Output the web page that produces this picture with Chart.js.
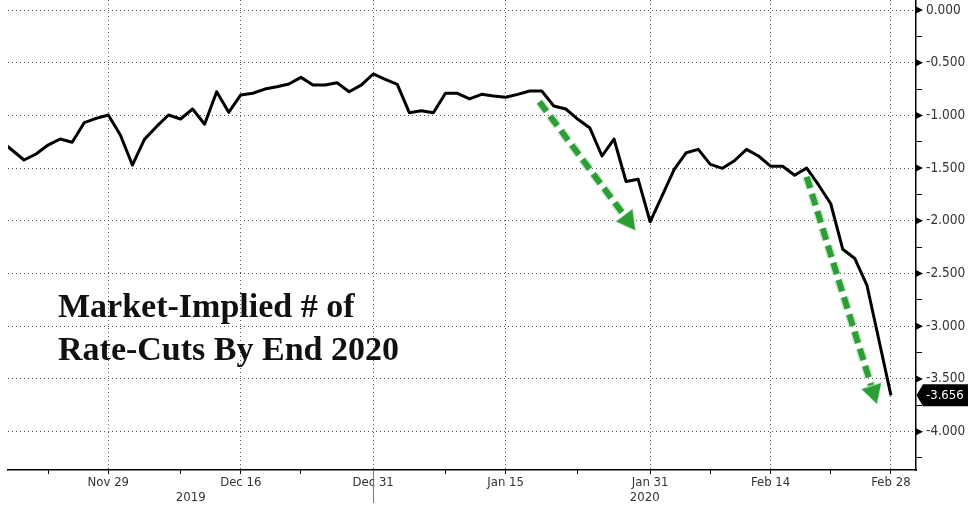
<!DOCTYPE html>
<html><head><meta charset="utf-8">
<script src="https://cdn.jsdelivr.net/npm/chart.js@4/dist/chart.umd.min.js"></script>
<style>html,body{margin:0;padding:0;background:#fff;}canvas{display:block;}</style>
</head><body>
<canvas id="c" width="976" height="510"></canvas>
<script>
// ---------- DATA ----------
const dates = [
 '2019-11-18','2019-11-19','2019-11-20','2019-11-21','2019-11-22','2019-11-25','2019-11-26','2019-11-27','2019-11-28','2019-11-29',
 '2019-12-02','2019-12-03','2019-12-04','2019-12-05','2019-12-06','2019-12-09','2019-12-10','2019-12-11','2019-12-12','2019-12-13',
 '2019-12-16','2019-12-17','2019-12-18','2019-12-19','2019-12-20','2019-12-23','2019-12-24','2019-12-25','2019-12-26','2019-12-27',
 '2019-12-30','2019-12-31','2020-01-01','2020-01-02','2020-01-03','2020-01-06','2020-01-07','2020-01-08','2020-01-09','2020-01-10',
 '2020-01-13','2020-01-14','2020-01-15','2020-01-16','2020-01-17','2020-01-20','2020-01-21','2020-01-22','2020-01-23','2020-01-24',
 '2020-01-27','2020-01-28','2020-01-29','2020-01-30','2020-01-31','2020-02-03','2020-02-04','2020-02-05','2020-02-06','2020-02-07',
 '2020-02-10','2020-02-11','2020-02-12','2020-02-13','2020-02-14','2020-02-17','2020-02-18','2020-02-19','2020-02-20','2020-02-21',
 '2020-02-24','2020-02-25','2020-02-26','2020-02-27','2020-02-28'
];
const rateCuts = [
 -1.233,-1.328,-1.423,-1.366,-1.281,-1.224,-1.255,-1.069,-1.028,-0.996,
 -1.186,-1.471,-1.227,-1.107,-0.996,-1.034,-0.939,-1.084,-0.775,-0.971,
 -0.806,-0.790,-0.750,-0.728,-0.702,-0.639,-0.712,-0.712,-0.690,-0.775,
 -0.712,-0.607,-0.657,-0.705,-0.974,-0.955,-0.974,-0.790,-0.790,-0.844,
 -0.800,-0.816,-0.828,-0.800,-0.768,-0.768,-0.911,-0.939,-1.037,-1.120,
 -1.385,-1.224,-1.627,-1.605,-2.009,-1.760,-1.513,-1.354,-1.322,-1.464,
 -1.502,-1.430,-1.322,-1.385,-1.482,-1.482,-1.568,-1.499,-1.662,-1.838,
 -2.270,-2.358,-2.609,-3.131,-3.656
];
const majorTickDates  = ['2019-11-29','2019-12-16','2019-12-31','2020-01-15','2020-01-31','2020-02-14','2020-02-28'];
const majorTickLabels = ['Nov 29','Dec 16','Dec 31','Jan 15','Jan 31','Feb 14','Feb 28'];
const minorTickDates  = ['2019-11-22','2019-12-09','2019-12-23','2020-01-08','2020-01-23','2020-02-07','2020-02-21'];
const yearLabels = ['2019','2020'];
const yearBoundary = '2019-12-31';
const yMajorTicks = [0,-0.5,-1,-1.5,-2,-2.5,-3,-3.5,-4];
const yMinorTicks = [-0.25,-0.75,-1.25,-1.75,-2.25,-2.75,-3.25,-3.75,-4.25];
const titleLines = ['Market-Implied # of','Rate-Cuts By End 2020'];
// green arrows, in (business-day index, value)
const arrowsData = [
 {x0:44.8, y0:-0.870, x1:52.75, y1:-2.087},
 {x0:67.0, y0:-1.582, x1:72.82, y1:-3.732}
];

// ---------- CHART ----------
const FONT = "'DejaVu Sans Condensed','DejaVu Sans',sans-serif";
const X_MIN = 0.67, X_MAX = 76.08, Y_MIN = -4.364, Y_MAX = 0.095;
const points = rateCuts.map((v,i)=>({x:i, y:v}));
const majorIdx = majorTickDates.map(d=>dates.indexOf(d));
const minorIdx = minorTickDates.map(d=>dates.indexOf(d));
const xTicks = majorIdx.concat(minorIdx).sort((a,b)=>a-b);
const yTicks = yMajorTicks.concat(yMinorTicks).sort((a,b)=>b-a);
const isMajorX = v => majorIdx.includes(v);
const isMajorY = v => yMajorTicks.some(t=>Math.abs(t-v)<1e-9);

const overlay = {
 id:'overlay',
 afterDraw(chart){
  const {ctx, chartArea:a, scales:{x,y}} = chart;
  ctx.save();
  // year separator
  const px = Math.round(x.getPixelForValue(dates.indexOf(yearBoundary)))+0.5;
  ctx.strokeStyle='#777'; ctx.lineWidth=1;
  ctx.beginPath(); ctx.moveTo(px,a.bottom); ctx.lineTo(px,a.bottom+33); ctx.stroke();
  ctx.font='13px '+FONT; ctx.fillStyle='#333'; ctx.textAlign='center'; ctx.textBaseline='alphabetic';
  ctx.fillText(yearLabels[0],(a.left+px)/2,a.bottom+30.5);
  ctx.fillText(yearLabels[1],(px+a.right)/2,a.bottom+30.5);
  // title
  ctx.font="bold 34px 'Liberation Serif','Times New Roman',serif";
  ctx.fillStyle='#111'; ctx.textAlign='left';
  ctx.fillText(titleLines[0], a.left+50, 316.5);
  ctx.fillText(titleLines[1], a.left+50, 359.5);
  // arrows
  arrowsData.forEach(ar=>{
   const x0=x.getPixelForValue(ar.x0), y0=y.getPixelForValue(ar.y0);
   const x1=x.getPixelForValue(ar.x1), y1=y.getPixelForValue(ar.y1);
   const dx=x1-x0, dy=y1-y0, L=Math.hypot(dx,dy), ux=dx/L, uy=dy/L;
   const hl=18, hw=10;
   const bx=x1-ux*hl, by=y1-uy*hl;
   ctx.lineCap='butt';
   ctx.setLineDash([12,6]);
   ctx.strokeStyle='rgba(200,232,200,0.95)'; ctx.lineWidth=9;
   ctx.beginPath(); ctx.moveTo(x0,y0); ctx.lineTo(bx+ux*2,by+uy*2); ctx.stroke();
   ctx.strokeStyle='#2b9e35'; ctx.lineWidth=6;
   ctx.beginPath(); ctx.moveTo(x0,y0); ctx.lineTo(bx+ux*2,by+uy*2); ctx.stroke();
   ctx.setLineDash([]);
   ctx.beginPath(); ctx.moveTo(x1,y1); ctx.lineTo(bx-uy*hw,by+ux*hw); ctx.lineTo(bx+uy*hw,by-ux*hw); ctx.closePath();
   ctx.strokeStyle='rgba(200,232,200,0.95)'; ctx.lineWidth=2; ctx.stroke();
   ctx.fillStyle='#2b9e35'; ctx.fill();
  });
  // y major tick triangles
  ctx.fillStyle='#000';
  yMajorTicks.forEach(v=>{
   const yp=y.getPixelForValue(v);
   ctx.beginPath(); ctx.moveTo(a.right,yp-3.5); ctx.lineTo(a.right+7,yp); ctx.lineTo(a.right,yp+3.5); ctx.closePath(); ctx.fill();
  });
  // last value box
  const last = rateCuts[rateCuts.length-1];
  const yp = y.getPixelForValue(last);
  ctx.fillStyle='#000';
  ctx.beginPath(); ctx.moveTo(a.right+0.5,yp); ctx.lineTo(a.right+7,yp-11); ctx.lineTo(a.right+52,yp-11);
  ctx.lineTo(a.right+52,yp+11); ctx.lineTo(a.right+7,yp+11); ctx.closePath(); ctx.fill();
  ctx.fillStyle='#fff'; ctx.font='13px '+FONT; ctx.textAlign='left'; ctx.textBaseline='middle';
  ctx.fillText(last.toFixed(3), a.right+10, yp+0.5);
  ctx.restore();
 }
};

new Chart(document.getElementById('c'), {
 type:'line',
 data:{datasets:[{data:points, borderColor:'#000', borderWidth:3, pointRadius:0, tension:0, clip:0, borderJoinStyle:'round'}]},
 options:{
  responsive:false, animation:false,
  layout:{padding:{left:8,top:0,right:0,bottom:0}},
  plugins:{legend:{display:false}, tooltip:{enabled:false}},
  scales:{
   x:{type:'linear', position:'bottom', min:X_MIN, max:X_MAX,
    afterBuildTicks: s=>{ s.ticks = xTicks.map(v=>({value:v})); },
    afterFit: s=>{ s.height = 40; s.paddingLeft = 0; s.paddingRight = 0; },
    grid:{color: c=> (c.tick && isMajorX(c.tick.value)) ? '#555' : 'rgba(0,0,0,0)',
          tickColor:'#000', tickLength:4, lineWidth:1},
    border:{display:true, color:'#000', width:1.5, dash:[1,3]},
    ticks:{autoSkip:false, maxRotation:0, minRotation:0, padding:1, color:'#333',
      font:{family:FONT, size:13},
      callback: v => { const k = majorIdx.indexOf(v); return k>=0 ? majorTickLabels[k] : ''; }}
   },
   y:{type:'linear', position:'right', min:Y_MIN, max:Y_MAX,
    afterBuildTicks: s=>{ s.ticks = yTicks.map(v=>({value:v})); },
    afterFit: s=>{ s.width = 60; s.paddingTop = 0; s.paddingBottom = 0; },
    grid:{color: c=> (c.tick && isMajorY(c.tick.value)) ? '#555' : 'rgba(0,0,0,0)',
          tickColor: c=> (c.tick && isMajorY(c.tick.value)) ? 'rgba(0,0,0,0)' : '#000', tickLength:6, lineWidth:1},
    border:{display:true, color:'#000', width:1.5, dash:[1,3]},
    ticks:{autoSkip:false, padding:4, color:'#333', font:{family:FONT, size:13.5},
      callback: v => isMajorY(v) ? v.toFixed(3) : ''}
   }
  }
 },
 plugins:[overlay]
});
</script>
</body></html>
